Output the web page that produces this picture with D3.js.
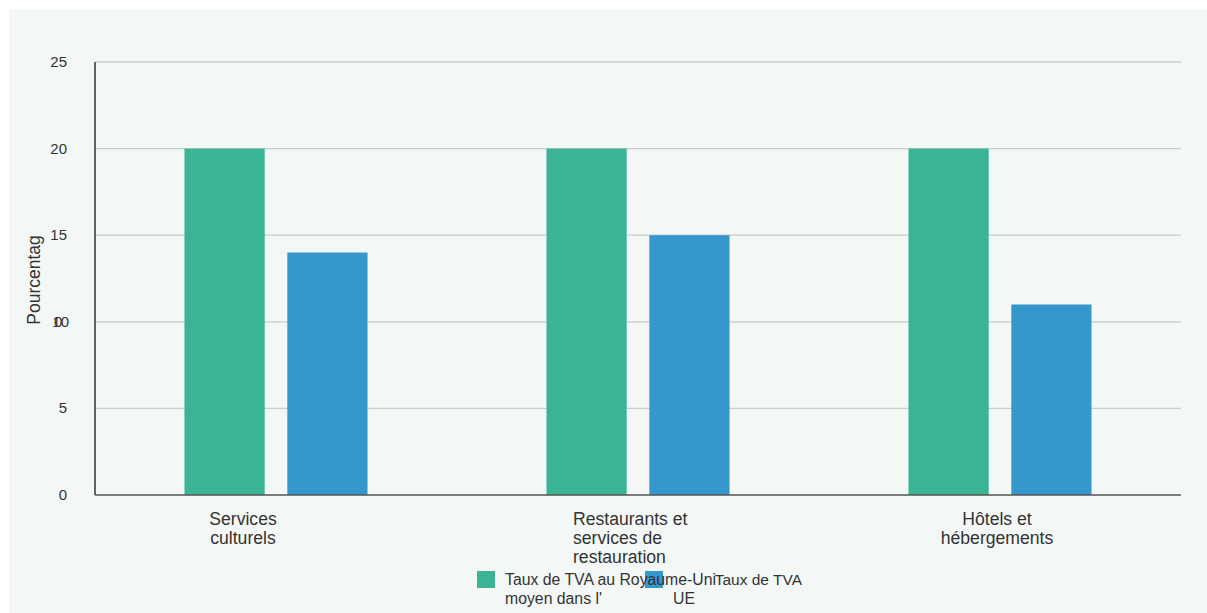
<!DOCTYPE html>
<html><head><meta charset="utf-8">
<script src="https://cdn.jsdelivr.net/npm/d3@7"></script>
<style>
html,body{margin:0;padding:0;background:#fff;}
svg text{font-family:"Liberation Sans",Arial,Helvetica,sans-serif;fill:#333;}
</style></head>
<body><svg id="c" width="1207" height="613"></svg>
<script>
const categories = [["Services","culturels"],["Restaurants et","services de","restauration"],["Hôtels et","hébergements"]];
const seriesNames = ["Taux de TVA au Royaume-Uni","Taux de TVA moyen dans l'UE"];
const ukValues = [20, 20, 20];
const euValues = [14, 15, 11];
const yTicks = [0, 5, 10, 15, 20, 25];
const colors = ["#3bb395", "#3597cc"];

const svg = d3.select("#c");
svg.append("rect").attr("x",9).attr("y",9).attr("width",1198).attr("height",604).attr("fill","#f3f8f6");

const m = {l:95, r:1181, t:62, b:495};
const catKeys = categories.map((c,i)=>i);
const x0 = d3.scaleBand().domain(catKeys).range([m.l,m.r]).padding(0);
const x1 = d3.scaleBand().domain([0,1]).range([0,x0.bandwidth()]).paddingInner(0.22).paddingOuter(0.87);
const y = d3.scaleLinear().domain([0,25]).range([m.b,m.t]);

// grid
svg.append("g").selectAll("line").data(yTicks.filter(d=>d>0)).join("line")
  .attr("x1",m.l).attr("x2",m.r).attr("y1",d=>y(d)).attr("y2",d=>y(d))
  .attr("stroke","#c8cccb").attr("stroke-width",1.3);

// bars
const data = catKeys.map(i=>[ukValues[i], euValues[i]]);
const g = svg.append("g");
data.forEach((vals,i)=>{
  vals.forEach((v,s)=>{
    g.append("rect").attr("x",x0(i)+x1(s)).attr("y",y(v))
      .attr("width",x1.bandwidth()).attr("height",y(0)-y(v)).attr("fill",colors[s]);
  });
});

// axes lines
svg.append("line").attr("x1",m.l).attr("x2",m.l).attr("y1",m.t).attr("y2",m.b).attr("stroke","#333").attr("stroke-width",1.5);
svg.append("line").attr("x1",m.l).attr("x2",m.r).attr("y1",m.b).attr("y2",m.b).attr("stroke","#555").attr("stroke-width",1.5);

// y tick labels
const yl = svg.append("g");
yTicks.forEach(t=>{
  yl.append("text").attr("x",t===10?69:67).attr("y",y(t)+5).attr("text-anchor","end").attr("font-size",15).text(t);
  if(t===10){
    yl.append("text").attr("x",54).attr("y",y(t)+5).attr("font-size",15).text("0");
  }
});

// y axis label
svg.append("text").attr("transform","translate(40,280) rotate(-90)").attr("text-anchor","middle")
  .attr("font-size",17.5).text("Pourcentag");

// x labels
const labLayout = [{a:"middle",dx:-33},{a:"start",dx:-65},{a:"middle",dx:-3}];
categories.forEach((lines,i)=>{
  const cx = x0(i)+x0.bandwidth()/2 + labLayout[i].dx;
  const t = svg.append("text").attr("font-size",17.6).attr("text-anchor",labLayout[i].a);
  lines.forEach((ln,k)=>t.append("tspan").attr("x",cx).attr("y",525+k*19).text(ln));
});

// legend
const lg = svg.append("g");
lg.append("rect").attr("x",477).attr("y",571).attr("width",18).attr("height",17).attr("fill",colors[0]);
lg.append("rect").attr("x",645).attr("y",571).attr("width",18).attr("height",17).attr("fill",colors[1]);
lg.append("text").attr("x",505).attr("y",585).attr("font-size",15.8).text(seriesNames[0]);
lg.append("text").attr("x",505).attr("y",604).attr("font-size",15.8).text("moyen dans l'");
lg.append("text").attr("x",802).attr("y",585).attr("text-anchor","end").attr("font-size",15.5).text("Taux de TVA");
lg.append("text").attr("x",673).attr("y",604).attr("font-size",15.8).text("UE");
</script></body></html>
